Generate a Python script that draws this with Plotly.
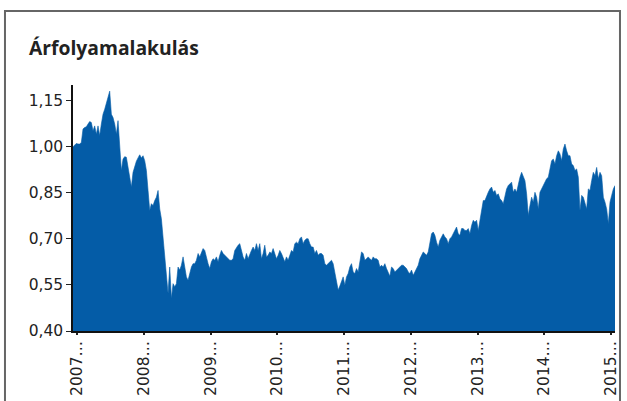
import pandas as pd
import plotly.graph_objects as go

values = [
    0.999, 1.006, 1.010, 1.008, 1.008, 1.013, 1.057, 1.062, 1.064, 1.073,
    1.081, 1.078, 1.051, 1.067, 1.040, 1.067, 1.035, 1.073, 1.105, 1.121,
    1.138, 1.159, 1.180, 1.105, 1.094, 1.073, 1.040, 1.084, 0.986, 0.922,
    0.959, 0.967, 0.965, 0.935, 0.900, 0.868, 0.916, 0.938, 0.952, 0.963,
    0.973, 0.963, 0.970, 0.954, 0.922, 0.857, 0.792, 0.814, 0.808, 0.824,
    0.835, 0.857, 0.797, 0.765, 0.706, 0.646, 0.587, 0.522, 0.608, 0.506,
    0.554, 0.544, 0.554, 0.608, 0.598, 0.614, 0.641, 0.608, 0.576, 0.565,
    0.587, 0.608, 0.619, 0.619, 0.630, 0.652, 0.641, 0.657, 0.668,
    # 2009 -
    0.662, 0.635, 0.619, 0.603, 0.625, 0.635, 0.630, 0.641, 0.625, 0.646,
    0.662, 0.652, 0.646, 0.641, 0.635, 0.630, 0.630, 0.635, 0.662, 0.673,
    0.679, 0.684, 0.662, 0.641, 0.630, 0.652, 0.635, 0.652, 0.662, 0.673,
    0.662, 0.684, 0.662, 0.684, 0.635, 0.652, 0.679, 0.641, 0.646, 0.657,
    0.652, 0.668, 0.652, 0.635, 0.646, 0.662, 0.652, 0.635, 0.625, 0.641,
    0.630, 0.646, 0.662, 0.657, 0.684, 0.689, 0.684, 0.700, 0.706, 0.684,
    0.695, 0.700, 0.700, 0.684, 0.673, 0.673, 0.652, 0.662, 0.646, 0.652,
    0.652, 0.646, 0.619, 0.614, 0.619, 0.625, 0.630, 0.619, 0.592, 0.560,
    0.533,
    # 2011 -
    0.546, 0.562, 0.576, 0.549, 0.576, 0.587, 0.608, 0.619, 0.592, 0.587,
    0.603, 0.592, 0.619, 0.657, 0.652, 0.630, 0.635, 0.641, 0.635, 0.630,
    0.641, 0.635, 0.635, 0.630, 0.608, 0.614, 0.608, 0.619, 0.603, 0.592,
    0.578, 0.608, 0.603, 0.592, 0.598, 0.603, 0.608, 0.614, 0.614, 0.608,
    0.603, 0.592, 0.587, 0.598, 0.581, 0.592, 0.603, 0.614, 0.635, 0.646,
    0.657, 0.652, 0.646, 0.657, 0.684, 0.716, 0.722, 0.711, 0.689, 0.673,
    0.695, 0.706, 0.716, 0.706, 0.700, 0.684, 0.700, 0.706, 0.716, 0.727,
    0.738, 0.716, 0.711, 0.733, 0.733, 0.727, 0.727, 0.733, 0.716, 0.743,
    0.760, 0.754, 0.760, 0.727,
    # 2013 -
    0.762, 0.797, 0.824, 0.824, 0.841, 0.851, 0.862, 0.868, 0.851, 0.857,
    0.841, 0.846, 0.830, 0.824, 0.814, 0.841, 0.862, 0.873, 0.878, 0.884,
    0.851, 0.862, 0.851, 0.878, 0.900, 0.916, 0.900, 0.889, 0.846, 0.776,
    0.808, 0.835, 0.819, 0.851, 0.835, 0.797, 0.851, 0.862, 0.873, 0.889,
    0.895, 0.900, 0.922, 0.954, 0.959, 0.943, 0.970, 0.986, 0.976, 0.954,
    0.992, 1.008, 0.986, 0.970, 0.970, 0.943, 0.938, 0.922, 0.927, 0.900,
    0.792, 0.841, 0.835, 0.819, 0.797, 0.862, 0.857, 0.889, 0.916, 0.905,
    0.932, 0.895, 0.916, 0.905, 0.835, 0.819, 0.797, 0.749, 0.819, 0.841,
    0.862, 0.873,
]

dates = pd.date_range(start="2006-12-10", periods=len(values), freq="219h")

tick_years = [2007, 2008, 2009, 2010, 2011, 2012, 2013, 2014, 2015]
tick_vals = [f"{y}-01-01" for y in tick_years]
tick_text = [f"{y}…" for y in tick_years]

y_ticks = [0.40, 0.55, 0.70, 0.85, 1.00, 1.15]
y_text = [f"{v:.2f}".replace(".", ",") for v in y_ticks]

title = "Árfolyamalakulás"
blue = "#045CA7"

fig = go.Figure()
fig.add_trace(go.Scatter(
    x=dates, y=values, mode="lines",
    line=dict(color=blue, width=0.6),
    fill="tozeroy", fillcolor=blue,
    hoverinfo="x+y", showlegend=False,
))

fig.update_layout(
    width=627, height=401,
    margin=dict(l=73, r=12, t=85, b=70),
    paper_bgcolor="white", plot_bgcolor="white",
    font=dict(family="DejaVu Sans", size=15.5, color="#222"),
    xaxis=dict(
        range=[dates[0], dates[-1]], automargin=False,
        tickmode="array", tickvals=tick_vals, ticktext=tick_text,
        tickangle=-90, showgrid=False, zeroline=False,
        showline=True, linecolor="#111", linewidth=1.5,
        ticks="outside", ticklen=2, tickwidth=1.5, tickcolor="#222",
        tickfont=dict(size=15.5, color="#222"),
    ),
    yaxis=dict(
        range=[0.40, 1.20], automargin=False,
        tickmode="array", tickvals=y_ticks, ticktext=y_text,
        showgrid=False, zeroline=False,
        showline=True, linecolor="#111", linewidth=1.5,
        ticks="outside", ticklen=5, tickwidth=1, tickcolor="#222",
        tickfont=dict(size=15.5, color="#222"),
    ),
    annotations=[dict(
        text=f"<b>{title}</b>", xref="paper", yref="paper",
        x=-0.0849, y=1.215, xanchor="left", yanchor="top",
        showarrow=False,
        font=dict(family="Open Sans", size=19.3, color="#222"),
    )],
    shapes=[dict(
        type="path", xref="paper", yref="paper",
        path="M -0.1255 -0.32 L -0.1255 1.3008 L 1.0092 1.3008 L 1.0092 -0.32",
        line=dict(color="#666", width=2),
    )],
)

fig.write_html(
    "out.html",
    config={"displayModeBar": False},
    post_script="document.body.style.margin='0';document.body.style.overflow='hidden';",
)
